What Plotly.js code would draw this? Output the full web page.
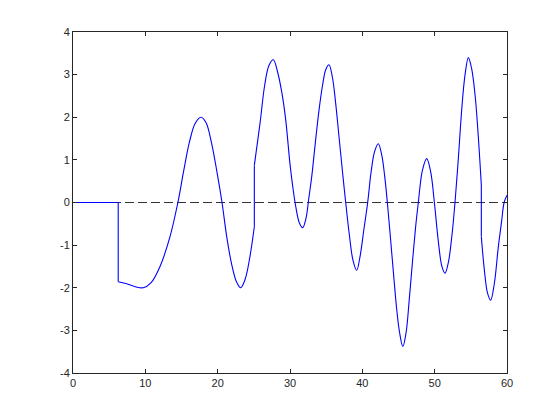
<!DOCTYPE html>
<html>
<head>
<meta charset="utf-8">
<script src="https://cdn.plot.ly/plotly-3.0.1.min.js"></script>
<style>html,body{margin:0;padding:0;background:#fff;}#chart{width:560px;height:420px;}</style>
</head>
<body>
<div id="chart"></div>
<script>
// Segment 1: flat part and drop
const tA = [0, 6.25, 6.25];
const yA = [0, 0, -1.86];
// Segment 2: 6.25 .. 25.07
const tB = [6.25, 7.3, 8.5, 9.72, 10.8, 12.03, 13.41, 14.5, 15.3, 16.1, 16.9, 17.7, 18.4, 19.15, 19.9, 20.6, 21.25, 21.9, 22.6, 23.18, 23.8, 24.45, 25.07];
const yB = [-1.86, -1.9, -1.97, -2.0, -1.88, -1.5, -0.8, 0, 0.74, 1.42, 1.86, 2.0, 1.87, 1.4, 0.72, 0, -0.8, -1.42, -1.86, -2.0, -1.8, -1.28, -0.57];
// Segment 3: 25.07 .. 56.45
const tC = [25.07, 25.85, 26.5, 27.1, 27.7, 28.3, 28.85, 29.4, 30.0, 30.4, 30.8, 31.3, 31.75, 32.2, 32.6, 33.0, 33.5, 34.0, 34.5, 34.95, 35.39, 35.85, 36.3, 36.8, 37.3, 37.7, 38.2, 38.7, 39.22, 39.7, 40.2, 40.74, 41.2, 41.7, 42.21, 42.7, 43.1, 43.46, 43.9, 44.35, 44.75, 45.15, 45.6, 46.05, 46.5, 46.95, 47.35, 47.74, 48.3, 48.9, 49.45, 49.96, 50.5, 51.0, 51.43, 51.9, 52.4, 52.81, 53.3, 53.75, 54.2, 54.66, 55.1, 55.6, 56.05, 56.45];
const yC = [0.87, 1.85, 2.75, 3.22, 3.35, 3.05, 2.6, 1.95, 0.9, 0.35, -0.1, -0.48, -0.59, -0.38, 0.1, 0.6, 1.4, 2.15, 2.75, 3.12, 3.23, 2.95, 2.35, 1.5, 0.65, 0.0, -0.75, -1.35, -1.59, -1.25, -0.65, 0.0, 0.7, 1.2, 1.38, 1.1, 0.6, 0.0, -0.85, -1.75, -2.5, -3.05, -3.38, -3.05, -2.25, -1.35, -0.6, 0.0, 0.75, 1.03, 0.72, 0.0, -0.9, -1.5, -1.66, -1.4, -0.75, 0.0, 1.1, 2.2, 3.0, 3.40, 3.15, 2.5, 1.5, 0.41];
// Segment 4: 56.45 .. 60
const tD = [56.45, 56.45, 56.85, 57.3, 57.74, 58.25, 58.8, 59.25, 59.6, 60];
const yD = [0.41, -0.8, -1.55, -2.12, -2.29, -1.9, -1.04, -0.45, 0.0, 0.17];
// Reference line
const tRef = [0, 60];
const yRef = [0, 0];
const xTicks = [0, 10, 20, 30, 40, 50, 60];
const yTicks = [-4, -3, -2, -1, 0, 1, 2, 3, 4];

const blue = {color: '#0000FF', width: 1.1};
const spl = Object.assign({shape: 'spline', smoothing: 1}, blue);
const traces = [
  {x: tRef, y: yRef, mode: 'lines', line: {color: '#333333', width: 1, dash: '9px,4px'}},
  {x: tA, y: yA, mode: 'lines', line: blue},
  {x: tB, y: yB, mode: 'lines', line: spl},
  {x: [tB[tB.length-1], tC[0]], y: [yB[yB.length-1], yC[0]], mode: 'lines', line: blue},
  {x: tC, y: yC, mode: 'lines', line: spl},
  {x: tD.slice(0, 2), y: yD.slice(0, 2), mode: 'lines', line: blue},
  {x: tD.slice(1), y: yD.slice(1), mode: 'lines', line: spl}
];
const axisCommon = {
  showgrid: false, zeroline: false, showline: true, mirror: 'ticks',
  linecolor: '#262626', linewidth: 1, ticks: 'inside', ticklen: 4, tickcolor: '#262626',
  tickfont: {family: 'Liberation Sans, Arial, sans-serif', size: 11, color: '#262626'}
};
const layout = {
  width: 560, height: 420,
  margin: {l: 73, r: 53, t: 32, b: 47},
  paper_bgcolor: '#ffffff', plot_bgcolor: '#ffffff',
  showlegend: false,
  xaxis: Object.assign({range: [0, 60], tickvals: xTicks, ticktext: xTicks.map(String)}, axisCommon),
  yaxis: Object.assign({range: [-4, 4], tickvals: yTicks, ticktext: yTicks.map(String)}, axisCommon)
};
Plotly.newPlot('chart', traces, layout, {staticPlot: true});
</script>
</body>
</html>
